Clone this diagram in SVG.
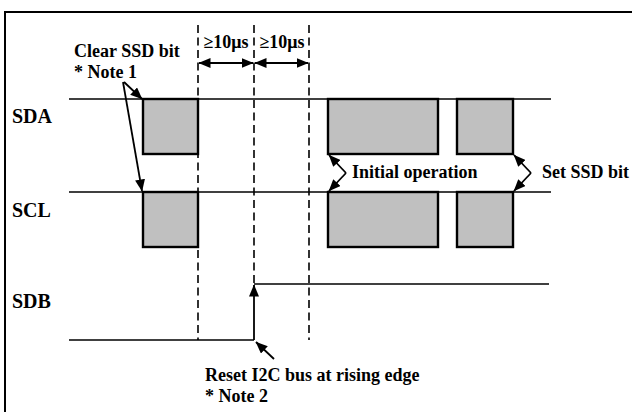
<svg xmlns="http://www.w3.org/2000/svg" width="632" height="412" viewBox="0 0 632 412">
<style>
  .lbl{font-family:"Liberation Serif","Times New Roman",serif;font-weight:bold;fill:#000}
  .sig{stroke:#000;stroke-width:1.7;fill:none}
  .box{fill:#c0c0c0;stroke:#000;stroke-width:2.4}
  .dash{stroke:#000;stroke-width:1.6;stroke-dasharray:8 4.5;fill:none}
  .arr{stroke:#000;stroke-width:1.8;fill:none}
</style>
<defs>
  <marker id="ah" viewBox="0 0 12 10" refX="11.5" refY="5" markerWidth="12" markerHeight="10" markerUnits="userSpaceOnUse" orient="auto-start-reverse">
    <path d="M0,0 L12,5 L0,10 Z" fill="#000"/>
  </marker>
</defs>
<rect width="632" height="412" fill="#fff"/>
<g id="frame">
  <path d="M5,412 V12 H632" fill="none" stroke="#000" stroke-width="2"/>
</g>
<g id="sda">
  <text class="lbl" x="12" y="123" font-size="20">SDA</text>
  <line class="sig" x1="69" y1="99" x2="551" y2="99"/>
  <rect class="box" x="143" y="99" width="55" height="55"/>
  <rect class="box" x="328" y="99" width="110" height="55"/>
  <rect class="box" x="457" y="99" width="56" height="55"/>
</g>
<g id="scl">
  <text class="lbl" x="12" y="217" font-size="20">SCL</text>
  <line class="sig" x1="69" y1="192" x2="551" y2="192"/>
  <rect class="box" x="143" y="192" width="55" height="55"/>
  <rect class="box" x="328" y="192" width="110" height="55"/>
  <rect class="box" x="457" y="192" width="56" height="55"/>
</g>
<g id="sdb">
  <text class="lbl" x="12" y="308" font-size="20">SDB</text>
  <polyline class="sig" points="69,340 254,340"/>
  <line class="sig" x1="254" y1="284" x2="549" y2="284"/>
</g>
<g id="timing">
  <line class="dash" x1="198" y1="25" x2="198" y2="340"/>
  <line class="dash" x1="254" y1="25" x2="254" y2="284"/>
  <line class="dash" x1="309" y1="25" x2="309" y2="340"/>
  <text class="lbl" x="226" y="48" font-size="18" text-anchor="middle">≥10μs</text>
  <text class="lbl" x="282" y="48" font-size="18" text-anchor="middle">≥10μs</text>
</g>
<g id="notes">
  <text class="lbl" x="74" y="57" font-size="18">Clear SSD bit</text>
  <text class="lbl" x="74" y="78" font-size="18">* Note 1</text>
  <text class="lbl" x="352" y="178" font-size="18">Initial operation</text>
  <text class="lbl" x="542" y="178" font-size="18">Set SSD bit</text>
  <text class="lbl" x="205" y="381" font-size="18">Reset I2C bus at rising edge</text>
  <text class="lbl" x="205" y="402" font-size="18">* Note 2</text>
</g>
<g id="connectors">
  <line class="arr" x1="199" y1="63" x2="253" y2="63" marker-start="url(#ah)" marker-end="url(#ah)"/>
  <line class="arr" x1="255" y1="63" x2="308" y2="63" marker-start="url(#ah)" marker-end="url(#ah)"/>
  <line class="arr" x1="124" y1="82" x2="142" y2="99" marker-end="url(#ah)"/>
  <line class="arr" x1="123" y1="82" x2="142" y2="191" marker-end="url(#ah)"/>
  <line class="arr" x1="346" y1="173" x2="329" y2="155" marker-end="url(#ah)"/>
  <line class="arr" x1="346" y1="173" x2="329" y2="191" marker-end="url(#ah)"/>
  <line class="arr" x1="531" y1="173" x2="514" y2="155" marker-end="url(#ah)"/>
  <line class="arr" x1="531" y1="173" x2="514" y2="191" marker-end="url(#ah)"/>
  <line class="arr" x1="254" y1="340" x2="254" y2="285" marker-end="url(#ah)"/>
  <line class="arr" x1="274" y1="359" x2="256" y2="342" marker-end="url(#ah)"/>
</g>
</svg>
